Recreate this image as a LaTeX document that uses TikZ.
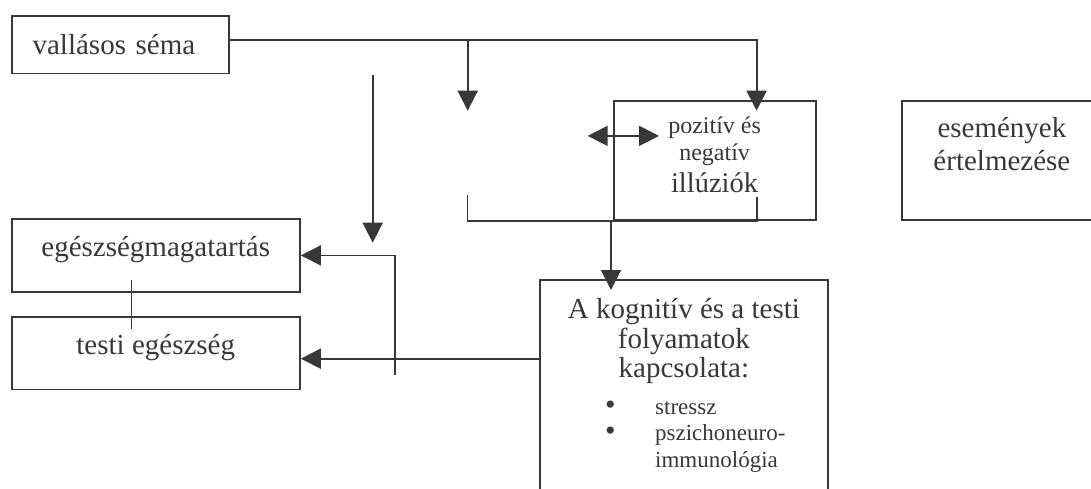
\documentclass[tikz,border=0pt]{standalone}
\usepackage{fontspec}
\setmainfont{Liberation Serif}
\usepackage{xcolor}
\usepackage{tikz}
\usetikzlibrary{positioning,arrows.meta}
\definecolor{ink}{HTML}{383838}

\begin{document}
\begin{tikzpicture}[
  x=1pt, y=-1pt,
  box/.style={draw=ink, line width=1.8pt, inner sep=0pt, text=ink,
    font=\fontsize{29}{33}\selectfont},
  txt/.style={inner sep=0pt, text=ink, align=center},
  ln/.style={draw=ink, line width=1.8pt},
  arr/.style={ln, -{Triangle[length=20pt,width=20pt]}},
  dbl/.style={ln, {Triangle[length=20pt,width=20pt]}-{Triangle[length=20pt,width=20pt]}}
]
\path[use as bounding box, clip] (0,0) rectangle (1091,489);
\node[box, anchor=north west, minimum height=57.7pt, text width=175pt,
  align=left, inner xsep=21pt] (vall) at (10.7,15) {vallásos séma};
\node[box, anchor=north west, minimum width=202pt, minimum height=119pt] (illu) at (612.7,100) {};
\node[box, anchor=north west, minimum width=200.6pt, minimum height=119.3pt] (esem) at (900.7,100) {};
\node[box, anchor=north west, minimum width=288.3pt, minimum height=73pt,
  text height=12pt, text depth=9pt] (egesz) at (10.7,218) {egészségmagatartás};
\node[box, below=23pt of egesz, minimum width=288.3pt, minimum height=72.7pt,
  text height=12pt, text depth=9pt] (testi) {testi egészség};
\node[box, anchor=north west, minimum width=288pt, minimum height=240pt] (kog) at (539,279) {};
\node[txt, font=\fontsize{24}{27}\selectfont, below=16.6pt of illu.north] (illu1) {pozitív és\\negatív};
\node[txt, font=\fontsize{28.5}{30}\selectfont, below=7pt of illu1] (illu2) {illúziók};
\node[txt, font=\fontsize{29}{33.3}\selectfont, below=17pt of esem.north] (esemtxt) {események\\értelmezése};
\node[txt, font=\fontsize{29}{29.5}\selectfont, below=19.2pt of kog.north] (kogtxt) {A kognitív és a testi\\folyamatok\\kapcsolata:};
\node[txt, font=\fontsize{23}{26.5}\selectfont, below right=116.5pt and 65.8pt of kog.north west] (lista)
  {\begin{tabular}{@{}l@{\hspace{39.7pt}}l@{}}\scalebox{1.3}{\textbullet} & stressz\\
   \scalebox{1.3}{\textbullet} & pszichoneuro-\\ & immunológia\end{tabular}};
\coordinate (fork) at (467.7,39.3);
\coordinate (vtop) at (372.7,75);
\coordinate (vbot) at (372.7,242.7);
\coordinate (brl) at (467.5,195);
\coordinate (rbot) at (395,375);
\coordinate (kt) at ([yshift=-5.6pt]testi.east);
\coordinate (itip) at ([yshift=-10.7pt]illu.north);
\draw[arr] ([yshift=4.5pt]vall.east) -| ([xshift=42pt]itip);
\draw[arr] (fork) -- (fork |- itip);
\draw[arr] (vtop) -- (vbot);
\draw[ln] (brl) |- ([xshift=42pt]illu.south) -- ++(0,-24);
\draw[dbl] ([xshift=-25pt,yshift=24.5pt]illu.west) -- ([xshift=46.3pt,yshift=24.5pt]illu.west);
\draw[arr] ([xshift=-1.7pt]illu.south west) -- ([xshift=72pt,yshift=-11pt]kog.north west);
\draw[arr] (kt -| kog.west) -- (kt);
\draw[arr] (rbot) |- (egesz.east);
\draw[ln] ([xshift=-24.2pt,yshift=13pt]egesz.south) -- ([xshift=-24.2pt,yshift=-12.7pt]testi.north);
\end{tikzpicture}
\end{document}
